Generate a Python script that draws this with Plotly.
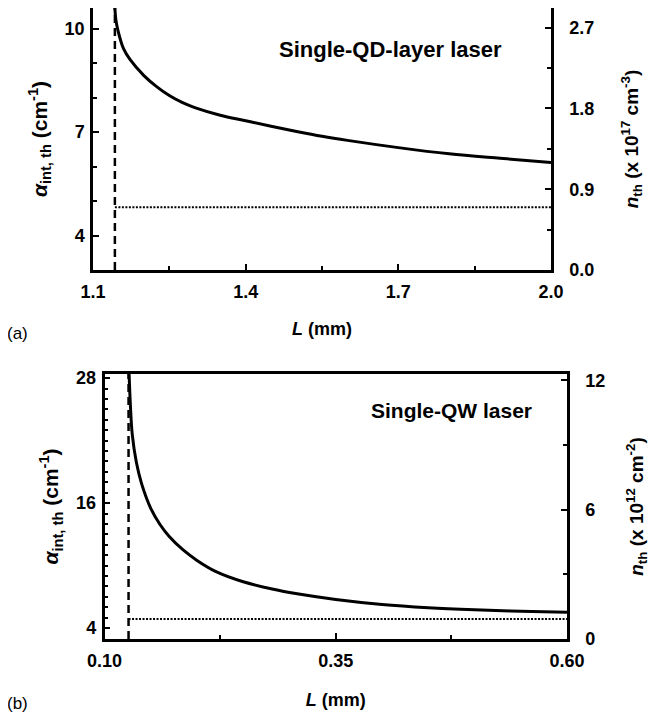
import plotly.graph_objects as go

# ---- data (a) single-QD-layer laser ----
qd_L = [1.143, 1.145, 1.149, 1.16, 1.173, 1.2, 1.225, 1.25, 1.275, 1.3, 1.35, 1.4, 1.45, 1.5, 1.55, 1.6, 1.7, 1.8, 1.9, 2.0]
qd_alpha = [10.6, 10.25, 9.95, 9.42, 9.1, 8.64, 8.32, 8.06, 7.86, 7.71, 7.49, 7.33, 7.17, 7.02, 6.88, 6.76, 6.55, 6.37, 6.24, 6.12]
qd_Lmin = 1.143
qd_Lmax = 2.0
qd_nth = 0.70
qd_xticks = [1.1, 1.4, 1.7, 2.0]
qd_xticktext = ["1.1", "1.4", "1.7", "2.0"]
qd_left_ticks = [4, 7, 10]
qd_right_ticks = [0.0, 0.9, 1.8, 2.7]
qd_right_ticktext = ["0.0", "0.9", "1.8", "2.7"]

# ---- data (b) single-QW laser ----
qw_L = [0.1266, 0.128, 0.13, 0.1345, 0.14, 0.15, 0.16, 0.17, 0.185, 0.2, 0.22, 0.25, 0.28, 0.31, 0.35, 0.4, 0.45, 0.5, 0.55, 0.6]
qw_alpha = [28.4, 25.4, 22.6, 19.9, 17.9, 15.5, 13.95, 12.8, 11.5, 10.5, 9.45, 8.45, 7.78, 7.27, 6.75, 6.27, 5.96, 5.76, 5.62, 5.53]
qw_Lmin = 0.126
qw_Lmax = 0.6
qw_nth = 0.93
qw_xticks = [0.10, 0.35, 0.60]
qw_xticktext = ["0.10", "0.35", "0.60"]
qw_left_ticks = [4, 16, 28]
qw_right_ticks = [0, 6, 12]

# page has an 8px body margin: figure is offset by OFF and sized to fit the window
OFF = 8
FW, FH = 658 - OFF, 719 - OFF
FONT = "Arial, Liberation Sans, Helvetica, sans-serif"
tickfont = dict(family=FONT, size=18, color="black", weight="bold")
xtitlefont = dict(family=FONT, size=18, color="black", weight="bold")
ytitlefont = dict(family=FONT, size=21, color="black", weight="bold")
rtitlefont = dict(family=FONT, size=19, color="black", weight="bold")


def fx(x):
    return (x - OFF) / FW


def fy(y):
    return min(1.0, max(0.0, 1 - (y - OFF) / FH))


def px_dom_x(a, b):
    return [fx(a), fx(b)]


def px_dom_y(top, bottom):
    return [fy(bottom), fy(top)]


fig = go.Figure()

# panel (a)
fig.add_trace(go.Scatter(x=qd_L, y=qd_alpha, mode="lines", line=dict(color="black", width=3, shape="spline", smoothing=1.0),
                         xaxis="x", yaxis="y", showlegend=False))
fig.add_trace(go.Scatter(x=[qd_Lmin, qd_Lmin], y=[3, 10.6], mode="lines",
                         line=dict(color="black", width=2.5, dash="8px,5px"), xaxis="x", yaxis="y", showlegend=False))
fig.add_trace(go.Scatter(x=[qd_Lmin, qd_Lmax], y=[qd_nth, qd_nth], mode="lines",
                         line=dict(color="black", width=2, dash="2px,1.5px"), xaxis="x", yaxis="y2", showlegend=False))

# panel (b)
fig.add_trace(go.Scatter(x=qw_L, y=qw_alpha, mode="lines", line=dict(color="black", width=3, shape="spline", smoothing=1.0),
                         xaxis="x2", yaxis="y3", showlegend=False))
fig.add_trace(go.Scatter(x=[qw_Lmin, qw_Lmin], y=[2.95, 28.4], mode="lines",
                         line=dict(color="black", width=2.5, dash="8px,5px"), xaxis="x2", yaxis="y3", showlegend=False))
fig.add_trace(go.Scatter(x=[qw_Lmin, qw_Lmax], y=[qw_nth, qw_nth], mode="lines",
                         line=dict(color="black", width=2, dash="2px,1.5px"), xaxis="x2", yaxis="y4", showlegend=False))

common = dict(showline=True, linecolor="black", linewidth=2.5, ticks="inside", ticklen=6, tickwidth=2,
              tickcolor="black", showgrid=False, zeroline=False, tickfont=tickfont, automargin=False)


def minor(t0, dt):
    return dict(ticks="inside", ticklen=4, tickwidth=2, tickcolor="black", tick0=t0, dtick=dt)


fig.update_layout(
    width=FW, height=FH, margin=dict(l=0, r=0, t=0, b=0),
    paper_bgcolor="white", plot_bgcolor="white",
    xaxis=dict(domain=px_dom_x(93, 551), anchor="y", range=[1.1, 2.0], tickvals=qd_xticks,
               ticktext=qd_xticktext, mirror=True, minor=minor(1.1, 0.15), ticklabelstandoff=4,
               title=dict(text="<i>L</i> (mm)", font=xtitlefont, standoff=22), **common),
    yaxis=dict(domain=px_dom_y(7, 270), anchor="x", range=[3, 10.6], tickvals=qd_left_ticks,
               minor=minor(3, 1), ticklabelstandoff=2,
               title=dict(text="<i>α</i><sub>int, th</sub> (cm<sup>-1</sup>)", font=ytitlefont, standoff=12),
               **common),
    yaxis2=dict(domain=px_dom_y(7, 270), anchor="x", overlaying="y", side="right", range=[0, 2.92],
                tickvals=qd_right_ticks, ticktext=qd_right_ticktext, minor=minor(0, 0.45), ticklabelstandoff=12,
                title=dict(text="<i>n</i><sub>th</sub> (x 10<sup>17</sup> cm<sup>-3</sup>)", font=rtitlefont, standoff=32),
                **common),
    xaxis2=dict(domain=px_dom_x(104.5, 567), anchor="y3", range=[0.1, 0.6], tickvals=qw_xticks,
                ticktext=qw_xticktext, mirror=True, minor=minor(0.1, 0.125), ticklabelstandoff=4,
                title=dict(text="<i>L</i> (mm)", font=xtitlefont, standoff=24), **common),
    yaxis3=dict(domain=px_dom_y(374, 639), anchor="x2", range=[2.95, 28.4], tickvals=qw_left_ticks,
                minor=minor(4, 1), ticklabelstandoff=2,
                title=dict(text="<i>α</i><sub>int, th</sub> (cm<sup>-1</sup>)", font=ytitlefont, standoff=12),
                **common),
    yaxis4=dict(domain=px_dom_y(374, 639), anchor="x2", overlaying="y3", side="right", range=[0, 12.3],
                tickvals=qw_right_ticks, minor=minor(0, 3), ticklabelstandoff=12,
                title=dict(text="<i>n</i><sub>th</sub> (x 10<sup>12</sup> cm<sup>-2</sup>)", font=rtitlefont, standoff=26),
                **common),
)

fig.add_annotation(text="Single-QD-layer laser", xref="paper", yref="paper", x=fx(390), y=fy(50),
                   xanchor="center", yanchor="middle", showarrow=False,
                   font=dict(family=FONT, size=22, color="black", weight="bold"))
fig.add_annotation(text="Single-QW laser", xref="paper", yref="paper", x=fx(452), y=fy(410),
                   xanchor="center", yanchor="middle", showarrow=False,
                   font=dict(family=FONT, size=21, color="black", weight="bold"))
fig.add_annotation(text="(a)", xref="paper", yref="paper", x=fx(17), y=fy(333),
                   xanchor="center", yanchor="middle", showarrow=False, font=dict(family=FONT, size=17, color="black"))
fig.add_annotation(text="(b)", xref="paper", yref="paper", x=fx(17), y=fy(703),
                   xanchor="center", yanchor="middle", showarrow=False, font=dict(family=FONT, size=17, color="black"))

fig.write_html("out.html")
